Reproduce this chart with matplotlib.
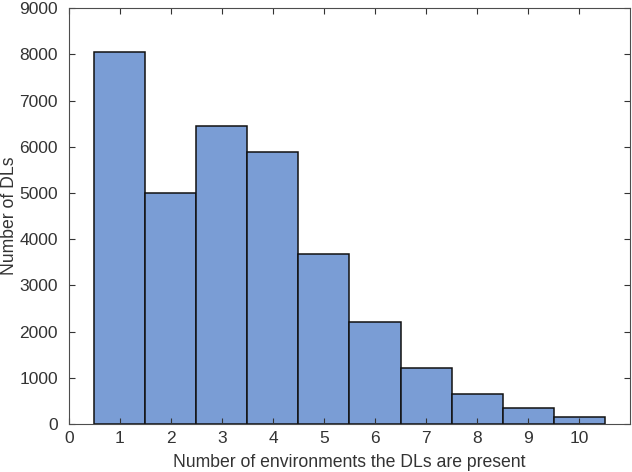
import matplotlib

matplotlib.use("Agg")

import matplotlib.pyplot as plt

plt.rcParams["font.family"] = ["Liberation Sans", "DejaVu Sans"]

envs = [1, 2, 3, 4, 5, 6, 7, 8, 9, 10]
counts = [8060, 4990, 6460, 5885, 3685, 2200, 1205, 650, 355, 160]

fig = plt.figure(figsize=(6.32, 4.72), dpi=100)
ax = fig.add_axes([0.109, 0.1017, 0.888, 0.881])
ax.bar(envs, counts, width=1.0, color="#7A9DD5", edgecolor="#111111", linewidth=1.1)

ax.set_xlim(0, 11)
ax.set_ylim(0, 9000)
ax.set_xticks(range(0, 11))
ax.set_yticks(range(0, 9001, 1000))
ax.tick_params(direction="in", top=True, right=True, labelsize=12.5, colors="#333333", length=4)
ax.tick_params(axis="y", pad=8)
ax.tick_params(axis="x", pad=5)
for spine in ax.spines.values():
    spine.set_color("#4D4D4D")
    spine.set_linewidth(0.8)
ax.set_xlabel("Number of environments the DLs are present", fontsize=12.7, color="#333333", labelpad=6)
ax.set_ylabel("Number of DLs", fontsize=12.7, color="#333333", labelpad=1)

fig.savefig("out.png", dpi=100)
plt.close(fig)
